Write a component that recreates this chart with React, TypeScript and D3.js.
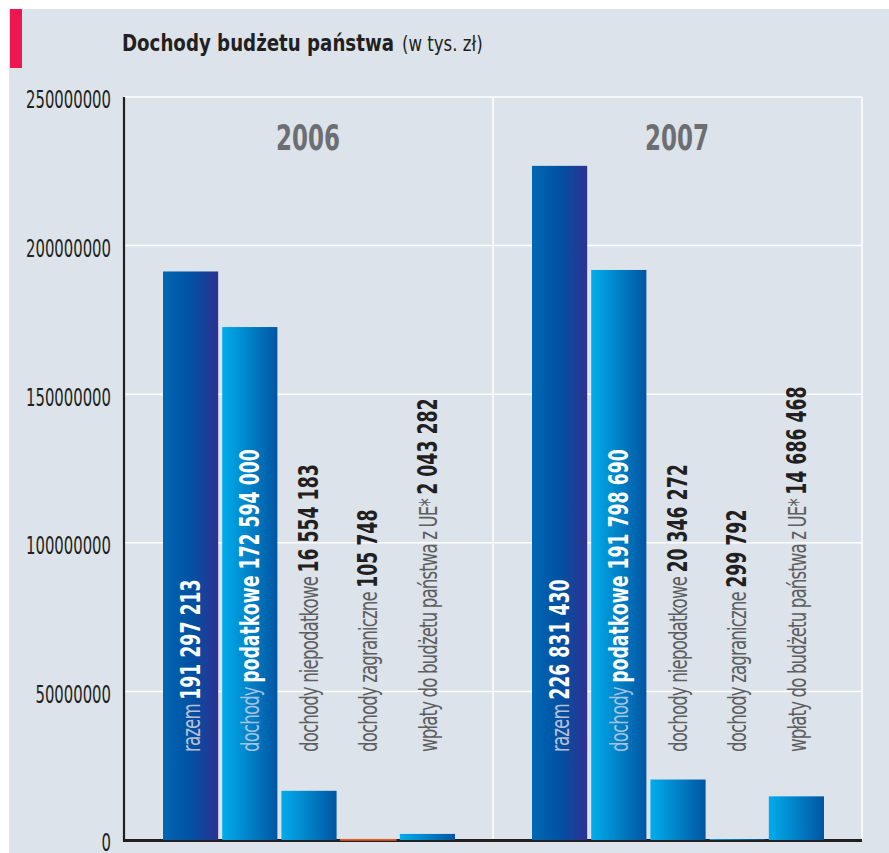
import * as React from 'react';
import * as d3 from 'd3';

const years = ['2006', '2007'];
const categories = ['razem', 'podatkowe', 'niepodatkowe', 'zagraniczne', 'wplaty'];
const lightLabels = ['razem ', 'dochody ', 'dochody niepodatkowe ', 'dochody zagraniczne ', 'wpłaty do budżetu państwa z UE* '];
const boldLabels = ['', 'podatkowe ', '', '', ''];
const values2006 = [191297213, 172594000, 16554183, 105748, 2043282];
const values2007 = [226831430, 191798690, 20346272, 299792, 14686468];
const yTicks = [0, 50000000, 100000000, 150000000, 200000000, 250000000];

const seriesByYear = { '2006': values2006, '2007': values2007 };

const FONT = "'DejaVu Sans Condensed', 'Liberation Sans Narrow', sans-serif";
const DARK = '#231f20';

const fillFor = (year: string, i: number) => {
	if (i === 0) return 'url(#gRazem)';
	if (i === 3 && year === '2006') return '#e35d24';
	return 'url(#gBlue)';
};

const lightColor = (i: number) => (i === 0 ? '#b7bfd8' : i === 1 ? '#a4c3e0' : '#5d5e60');
const boldColor = (i: number) => (i < 2 ? '#ffffff' : DARK);

const fmt = (v: number) => d3.format(',')(v).replace(/,/g, ' ');

export default function App() {
	const width = 889;
	const height = 853;
	const left = 124;
	const right = 862;
	const top = 97;
	const bottom = 840;

	const y = d3.scaleLinear().domain([0, 250000000]).range([bottom, top]);
	const x0 = d3.scaleBand().domain(years).range([left, right]);
	const x1 = d3.scaleBand().domain(categories).range([39, 331]).paddingInner(0.068);
	const groupMid = (x1.range()[0] + x1.range()[1]) / 2;

	return (
		<svg
			width={width}
			height={height}
			style={{ position: 'absolute', left: 0, top: 0, background: '#fff' }}
			fontFamily={FONT}
		>
			<defs>
				<linearGradient id='gRazem' x1='0' x2='1' y1='0' y2='0'>
					<stop offset='0%' stopColor='#0067b4' />
					<stop offset='50%' stopColor='#0052a2' />
					<stop offset='100%' stopColor='#2e3192' />
				</linearGradient>
				<linearGradient id='gBlue' x1='0' x2='1' y1='0' y2='0'>
					<stop offset='0%' stopColor='#00adec' />
					<stop offset='100%' stopColor='#0055a2' />
				</linearGradient>
			</defs>
			<rect x={9} y={9} width={width - 9} height={height - 9} fill='#dce3ea' />
			<rect x={10} y={9} width={12} height={59} fill='#ed1651' />
			<text transform='translate(122,51) scale(0.88,1)' fontSize={23} fill={DARK}>
				<tspan fontWeight='bold'>Dochody budżetu państwa</tspan>
				<tspan fontSize={21} dx={9}>
					(w tys. zł)
				</tspan>
			</text>

			{/* grid */}
			{yTicks
				.filter(t => t > 0)
				.map(t => (
					<line key={t} x1={left} x2={right} y1={y(t)} y2={y(t)} stroke='#fff' strokeWidth={1.5} />
				))}
			{years.map(yr => (
				<line
					key={yr}
					x1={x0(yr)! + x0.bandwidth()}
					x2={x0(yr)! + x0.bandwidth()}
					y1={top}
					y2={bottom}
					stroke='#fff'
					strokeWidth={1.5}
				/>
			))}

			{/* axes */}
			<line x1={left} x2={left} y1={top} y2={bottom + 1} stroke={DARK} strokeWidth={2.2} />
			<line x1={left - 1} x2={right} y1={bottom + 0.5} y2={bottom + 0.5} stroke={DARK} strokeWidth={3} />
			{yTicks.map(t => (
				<text
					key={t}
					transform={`translate(111,${y(t) + 2.5}) scale(0.66,1)`}
					textAnchor='end'
					dominantBaseline='central'
					fontSize={25}
					fill={DARK}
				>
					{t}
				</text>
			))}

			{years.map(yr => (
				<g key={yr} transform={`translate(${x0(yr)},0)`}>
					<text
						transform={`translate(${groupMid - 1},150) scale(0.73,1)`}
						textAnchor='middle'
						fontSize={35}
						fontWeight='bold'
						fill='#6d6e71'
					>
						{yr}
					</text>
					{categories.map((c, i) => {
						const v = seriesByYear[yr][i];
						const bx = x1(c)!;
						const fill = fillFor(yr, i);
						const solid = fill.startsWith('#');
						return (
							<rect
								key={c}
								x={bx}
								y={y(v)}
								width={x1.bandwidth()}
								height={y(0) - y(v)}
								fill={fill}
								stroke={solid ? fill : 'none'}
								strokeWidth={solid ? 1.5 : 0}
							/>
						);
					})}
					{categories.map((c, i) => {
						const v = seriesByYear[yr][i];
						const cx = x1(c)! + x1.bandwidth() / 2;
						return (
							<text
								key={c}
								transform={`translate(${cx},752) rotate(-90) scale(0.74,1)`}
								dominantBaseline='central'
								fontSize={25}
							>
								<tspan fill={lightColor(i)} letterSpacing={-1.2}>
									{lightLabels[i]}
								</tspan>
								<tspan fill={boldColor(i)} fontWeight='bold' fontSize={26}>
									{boldLabels[i] + fmt(v)}
								</tspan>
							</text>
						);
					})}
				</g>
			))}
		</svg>
	);
}
